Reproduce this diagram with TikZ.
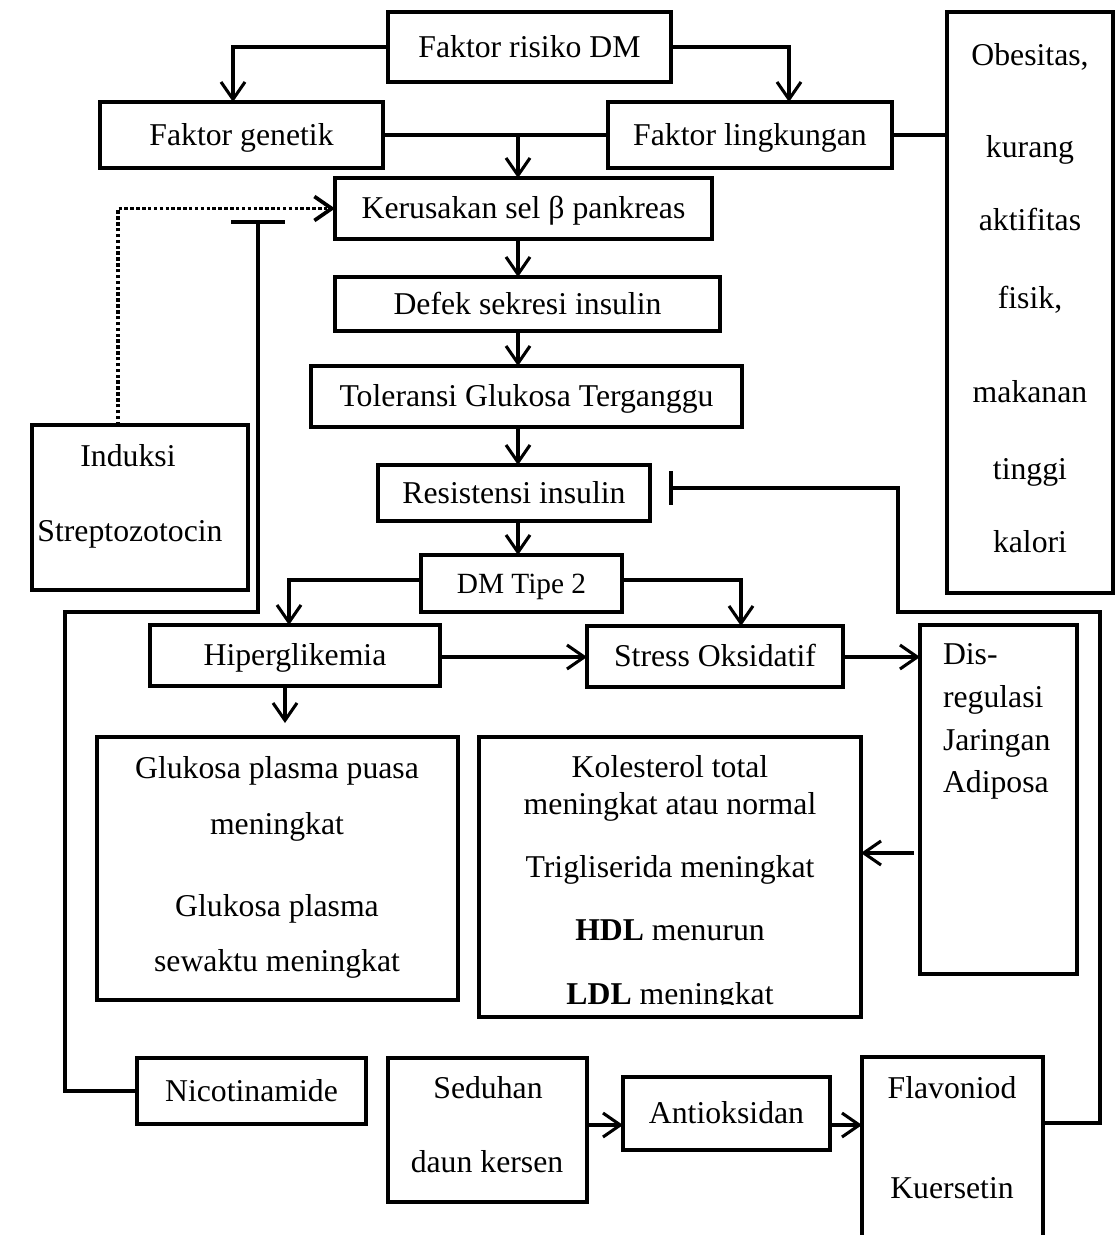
\documentclass[tikz,border=0pt]{standalone}
\usepackage{fontspec}
\setmainfont{Liberation Serif}
\usetikzlibrary{arrows.meta,calc}
\newcommand\myfs{\fontsize{23.8}{28}\selectfont}
\newcommand\mydmfs{\fontsize{22}{26}\selectfont}
% box from corner (x1,y1) to (x2,y2), in pixel units
\newcommand\bx[7][]{\node[box, #1, minimum width={(#5-#3)*0.75pt}, minimum height={(#6-#4)*0.75pt}] (#2) at ({(#3+#5)/2},{(#4+#6)/2}) {#7};}
\begin{document}
\begin{tikzpicture}[x=0.75pt,y=-0.75pt,
  box/.style={draw, line width=2.3pt, inner sep=0pt, outer sep=0pt, font=\myfs, text height=15.7pt, text depth=0pt},
  txt/.style={inner sep=0pt, outer sep=0pt, font=\myfs, anchor=base},
  con/.style={line width=2.3pt},
  arr/.style={con, -{Straight Barb[length=13pt,width=18pt]}},
  dotarr/.style={line width=2.8pt, dash pattern=on 2.6pt off 1.8pt, -{Straight Barb[length=13pt,width=18pt]}}
]
\useasboundingbox (0,0) rectangle (1117,1235);

% boxes
\bx{risk}{388}{12}{671}{82}{Faktor risiko DM}
\bx{gen}{100}{102}{383}{168}{Faktor genetik}
\bx{ling}{608}{102}{892}{168}{Faktor lingkungan}
\bx{obes}{947}{12}{1113}{593}{}
\bx{keru}{335}{178}{712}{239}{Kerusakan sel β pankreas}
\bx{defek}{335}{277}{720}{331}{Defek sekresi insulin}
\bx{tol}{311}{366}{742}{427}{Toleransi Glukosa Terganggu}
\bx{resis}{378}{465}{650}{521}{Resistensi insulin}
\bx[font=\mydmfs, text height=14.5pt]{dm}{421}{555}{622}{612}{DM Tipe 2}
\bx{hiper}{150}{625}{440}{686}{Hiperglikemia}
\bx{stress}{587}{626}{843}{687}{Stress Oksidatif}
\bx{disreg}{920}{625}{1077}{974}{}
\bx{gluk}{97}{737}{458}{1000}{}
\bx{kol}{479}{737}{861}{1017}{}
\bx{induk}{32}{425}{248}{590}{}
\bx{nico}{137}{1058}{366}{1124}{Nicotinamide}
\bx{sedu}{388}{1058}{587}{1202}{}
\bx{anti}{623}{1077}{830}{1150}{Antioksidan}
\bx[draw=none]{flav}{862}{1057}{1043}{1250}{}
\draw[con] (flav.south west) -- (flav.north west) -- (flav.north east) -- (flav.south east);

% texts inside multi-line boxes
\node[txt] (ob1) at (1030,65) {Obesitas,};
\node[txt] (ob2) at (1030,157) {kurang};
\node[txt] (ob3) at (1030,230) {aktifitas};
\node[txt] (ob4) at (1030,308) {fisik,};
\node[txt] (ob5) at (1030,402) {makanan};
\node[txt] (ob6) at (1030,479) {tinggi};
\node[txt] (ob7) at (1030,552) {kalori};

\node[txt, anchor=base west] (dr1) at (943,664) {Dis-};
\node[txt, anchor=base west] (dr2) at (943,707) {regulasi};
\node[txt, anchor=base west] (dr3) at (943,750) {Jaringan};
\node[txt, anchor=base west] (dr4) at (943,792) {Adiposa};

\node[txt] (gl1) at (277,778) {Glukosa plasma puasa};
\node[txt] (gl2) at (277,834) {meningkat};
\node[txt] (gl3) at (277,916) {Glukosa plasma};
\node[txt] (gl4) at (277,971) {sewaktu meningkat};

\node[txt] (ko1) at (670,777) {Kolesterol total};
\node[txt] (ko2) at (670,814) {meningkat atau normal};
\node[txt] (ko3) at (670,877) {Trigliserida meningkat};
\node[txt] (ko4) at (670,940) {\textbf{HDL} menurun};
\begin{scope}
\clip (481,739) rectangle (859,1004);
\node[txt] (ko5) at (670,1004) {\textbf{LDL} meningkat};
\end{scope}

\node[txt] (in1) at (128,466) {Induksi};
\node[txt] (in2) at (130,541) {Streptozotocin};

\node[txt] (se1) at (488,1098) {Seduhan};
\node[txt] (se2) at (487,1172) {daun kersen};

\node[txt] (fl1) at (952,1098) {Flavoniod};
\node[txt] (fl2) at (952,1198) {Kuersetin};

% helper coordinates
\coordinate (ax) at (518,0);
\coordinate (gx) at (233,0);
\coordinate (lx) at (789,0);
\coordinate (dx) at (118,0);
\coordinate (tb) at (258,222);
\coordinate (nl) at (65,612);
\coordinate (dmy) at (0,580);
\coordinate (hx) at (289,0);
\coordinate (sx) at (741,0);
\coordinate (sy) at (0,657);
\coordinate (hb) at (285,0);
\coordinate (ha) at (285,723);
\coordinate (ka) at (914,853);
\coordinate (ay) at (0,1125);
\coordinate (ry) at (0,1123);
\coordinate (r1) at (1100,612);
\coordinate (r2) at (898,488);
\coordinate (tb2) at (671,488);

% connectors
\draw[arr] (risk.west) -| (gen.north -| gx);
\draw[arr] (risk.east) -| (ling.north -| lx);
\draw[con] (gen.east) -- (ling.west);
\draw[arr] (gen.east -| ax) -- (keru.north -| ax);
\draw[con] (ling.east) -- (obes.west |- ling.east);

\draw[dotarr] (induk.north -| dx) |- (keru.west);
\draw[con] (nico.west) -| (nl) -| (tb);
\draw[con] ($(tb)+(-27,0)$) -- ($(tb)+(27,0)$);

\draw[arr] (keru.south -| ax) -- (defek.north -| ax);
\draw[arr] (defek.south -| ax) -- (tol.north -| ax);
\draw[arr] (tol.south -| ax) -- (resis.north -| ax);
\draw[arr] (resis.south -| ax) -- (dm.north -| ax);

\draw[arr] (dm.west |- dmy) -| (hiper.north -| hx);
\draw[arr] (dm.east |- dmy) -| (stress.north -| sx);
\draw[arr] (hiper.east |- sy) -- (stress.west |- sy);
\draw[arr] (stress.east |- sy) -- (disreg.west |- sy);
\draw[arr] (hiper.south -| hb) -- (ha);
\draw[arr] (ka) -- (kol.east |- ka);

\draw[arr] (sedu.east |- ay) -- (anti.west |- ay);
\draw[arr] (anti.east |- ay) -- (flav.west |- ay);

\draw[con] (flav.east |- ry) -| (r1) -| (r2) -- (tb2);
\draw[con] ($(tb2)+(0,-17)$) -- ($(tb2)+(0,17)$);
\end{tikzpicture}
\end{document}
